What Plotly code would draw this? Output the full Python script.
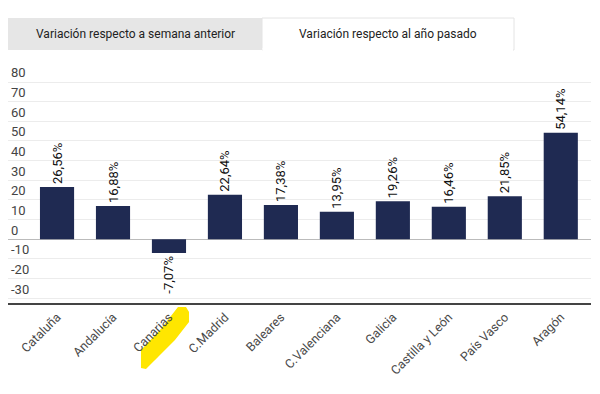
import plotly.graph_objects as go

categories = ["Cataluña", "Andalucía", "Canarias", "C.Madrid", "Baleares",
              "C.Valenciana", "Galicia", "Castilla y León", "País Vasco", "Aragón"]
values = [26.56, 16.88, -7.07, 22.64, 17.38, 13.95, 19.26, 16.46, 21.85, 54.14]
value_labels = ["26,56%", "16,88%", "-7,07%", "22,64%", "17,38%",
                "13,95%", "19,26%", "16,46%", "21,85%", "54,14%"]
tab_labels = ["Variación respecto a semana anterior", "Variación respecto al año pasado"]
y_ticks = [-30, -20, -10, 0, 10, 20, 30, 40, 50, 60, 70, 80]

FONT = "Roboto, Arial, sans-serif"

fig = go.Figure(go.Bar(
    x=list(range(len(categories))),
    y=values,
    text=value_labels,
    textposition="outside",
    textangle=-90,
    constraintext="none",
    cliponaxis=False,
    textfont=dict(family=FONT, size=13, color="#111111"),
    marker=dict(color="#1f2a52", line=dict(width=0)),
    width=0.61,
))

W, H = 600, 394
ml, mr, mt, mb = 8, 9, 62, 91
pw, ph = W - ml - mr, H - mt - mb

def px(x):
    return (x - ml) / pw

def py(y):
    return (H - mb - y) / ph

shapes = [
    dict(type="rect", xref="paper", yref="paper", x0=px(8), x1=px(262), y0=py(50), y1=py(18),
         fillcolor="#e6e6e6", line=dict(width=0), layer="below"),
    dict(type="rect", xref="paper", yref="paper", x0=px(262), x1=px(514), y0=py(50), y1=py(18),
         fillcolor="white", line=dict(width=1, color="#e4e4e4"), layer="below"),
    dict(type="rect", xref="paper", yref="paper", x0=px(262.5), x1=px(513), y0=py(51), y1=py(48),
         fillcolor="white", line=dict(width=0), layer="below"),
]

# yellow highlighter stroke over "Canarias"
pts = [(141, 368), (141, 350), (160, 330), (178, 307), (186, 307), (189, 312),
       (189, 322), (175, 340), (158, 357), (146, 369)]
path = "M " + " L ".join(f"{px(x):.4f},{py(y):.4f}" for x, y in pts) + " Z"
shapes.append(dict(type="path", xref="paper", yref="paper", path=path,
                   fillcolor="#ffe600", line=dict(width=0), layer="below"))

annotations = [
    dict(text=tab_labels[0], xref="paper", yref="paper", x=px(135), y=py(34),
         xanchor="center", yanchor="middle",
         showarrow=False, font=dict(family=FONT, size=12, color="#222222")),
    dict(text=tab_labels[1], xref="paper", yref="paper", x=px(388), y=py(34),
         xanchor="center", yanchor="middle",
         showarrow=False, font=dict(family=FONT, size=12, color="#222222")),
]

fig.update_layout(
    width=W, height=H,
    margin=dict(l=ml, r=mr, t=mt, b=mb, pad=0, autoexpand=False),
    paper_bgcolor="white",
    plot_bgcolor="white",
    showlegend=False,
    shapes=shapes,
    annotations=annotations,
    font=dict(family=FONT),
    xaxis=dict(
        tickmode="array",
        tickvals=list(range(len(categories))),
        ticktext=categories,
        tickangle=-45,
        range=[-0.876, 9.54],
        automargin=False,
        showgrid=False,
        zeroline=False,
        showline=True,
        linecolor="#444444",
        linewidth=2,
        tickfont=dict(family=FONT, size=12.5, color="#4a4a4a"),
        ticks="",
    ),
    yaxis=dict(
        range=[-32.5, 90.2],
        automargin=False,
        tickmode="array",
        tickvals=y_ticks,
        ticktext=[str(v) for v in y_ticks],
        ticklabelposition="inside top",
        tickfont=dict(family=FONT, size=13, color="#444444"),
        showgrid=True,
        gridcolor="#ececec",
        gridwidth=1,
        zeroline=True,
        zerolinecolor="#bbbbbb",
        zerolinewidth=1,
        showline=False,
        ticks="",
    ),
    bargap=0.39,
)

fig.write_html("out.html",
               config={"displayModeBar": False},
               post_script="document.body.style.margin='0';document.body.style.overflow='hidden';")
